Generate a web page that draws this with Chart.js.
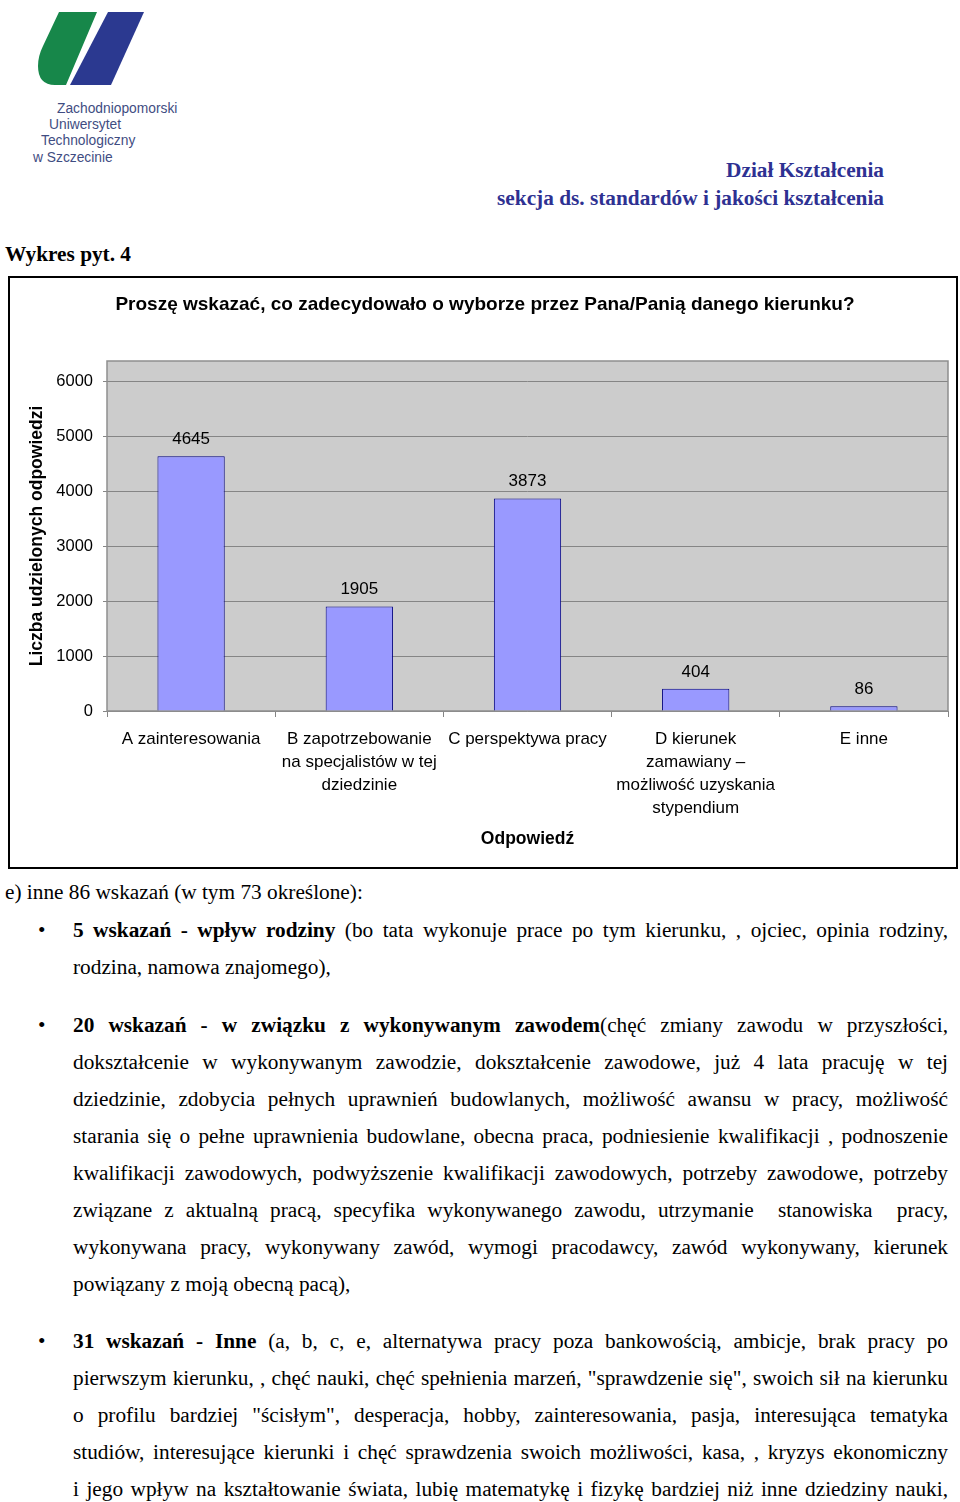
<!DOCTYPE html>
<html lang="pl">
<head>
<meta charset="utf-8">
<title>Wykres pyt. 4</title>
<script src="https://cdn.jsdelivr.net/npm/chart.js@4.4.1/dist/chart.umd.min.js"></script>
<style>
html,body{margin:0;padding:0;background:#fff;}
body{width:960px;height:1502px;position:relative;overflow:hidden;font-family:'Liberation Serif','Times New Roman',serif;color:#000;}
.abs{position:absolute;}
#logo{left:0;top:0;}
#hdr{right:76px;top:156px;text-align:right;font-weight:bold;font-size:21.3px;line-height:28px;color:#2e3192;white-space:nowrap;}
#wyk{left:5px;top:240px;font-weight:bold;font-size:21.3px;line-height:28px;white-space:nowrap;}
#box{left:8px;top:276px;width:950px;height:593px;box-sizing:border-box;border:2px solid #000;}
#box canvas{display:block;}
.txt{font-size:21.3px;line-height:37px;}
.ln{height:37px;white-space:nowrap;text-align:justify;text-align-last:justify;}
.ln.last{text-align-last:left;}
.par{left:73px;width:875px;}
.bul{left:38px;font-size:21.3px;line-height:37px;}
</style>
</head>
<body>
<svg id="logo" class="abs" width="200" height="170" viewBox="0 0 200 170">
  <path d="M59,12 L97,12 L66,85 L55,85 Q38,85 38,66 Q38,56 43,46 Z" fill="#17874a"/>
  <path d="M108,12 L144,12 L111,85 L70,85 Z" fill="#2b3990"/>
  <g font-family="'Liberation Sans', Arial, sans-serif" font-size="13.8" fill="#3f4d82">
    <text x="57" y="113">Zachodniopomorski</text>
    <text x="49" y="129">Uniwersytet</text>
    <text x="41" y="145">Technologiczny</text>
    <text x="33" y="162">w Szczecinie</text>
  </g>
</svg>

<div id="hdr" class="abs">Dział Kształcenia<br>sekcja ds. standardów i jakości kształcenia</div>
<div id="wyk" class="abs">Wykres pyt. 4</div>

<div id="box" class="abs"><canvas id="c" width="946" height="589"></canvas></div>

<div class="abs txt" style="left:5px;top:873.5px;white-space:nowrap;">e) inne 86 wskazań (w tym 73 określone):</div>

<div class="abs bul" style="top:911.5px;">•</div>
<div class="abs txt par" style="top:911.5px;">
  <div class="ln"><b>5 wskazań - wpływ rodziny</b> (bo tata wykonuje prace po tym kierunku, , ojciec, opinia rodziny,</div>
  <div class="ln last">rodzina, namowa znajomego),</div>
</div>

<div class="abs bul" style="top:1006.5px;">•</div>
<div class="abs txt par" style="top:1006.5px;">
  <div class="ln"><b>20 wskazań - w związku z wykonywanym zawodem</b>(chęć zmiany zawodu w przyszłości,</div>
  <div class="ln">dokształcenie w wykonywanym zawodzie, dokształcenie zawodowe, już 4 lata pracuję w tej</div>
  <div class="ln">dziedzinie, zdobycia pełnych uprawnień budowlanych, możliwość awansu w pracy, możliwość</div>
  <div class="ln">starania się o pełne uprawnienia budowlane, obecna praca, podniesienie kwalifikacji , podnoszenie</div>
  <div class="ln">kwalifikacji zawodowych, podwyższenie kwalifikacji zawodowych, potrzeby zawodowe, potrzeby</div>
  <div class="ln">związane z aktualną pracą, specyfika wykonywanego zawodu, utrzymanie &nbsp;stanowiska &nbsp;pracy,</div>
  <div class="ln">wykonywana pracy, wykonywany zawód, wymogi pracodawcy, zawód wykonywany, kierunek</div>
  <div class="ln last">powiązany z moją obecną pacą),</div>
</div>

<div class="abs bul" style="top:1322.5px;">•</div>
<div class="abs txt par" style="top:1322.5px;">
  <div class="ln"><b>31 wskazań - Inne</b> (a, b, c, e, alternatywa pracy poza bankowością, ambicje, brak pracy po</div>
  <div class="ln">pierwszym kierunku, , chęć nauki, chęć spełnienia marzeń, "sprawdzenie się", swoich sił na kierunku</div>
  <div class="ln">o profilu bardziej "ścisłym", desperacja, hobby, zainteresowania, pasja, interesująca tematyka</div>
  <div class="ln">studiów, interesujące kierunki i chęć sprawdzenia swoich możliwości, kasa, , kryzys ekonomiczny</div>
  <div class="ln">i jego wpływ na kształtowanie świata, lubię matematykę i fizykę bardziej niż inne dziedziny nauki,</div>
</div>

<script>
// ---- data ----
const chartTitle = "Proszę wskazać, co zadecydowało o wyborze przez Pana/Panią danego kierunku?";
const yAxisTitle = "Liczba udzielonych odpowiedzi";
const xAxisTitle = "Odpowiedź";
const categories = [
  ["A zainteresowania"],
  ["B zapotrzebowanie", "na specjalistów w tej", "dziedzinie"],
  ["C perspektywa pracy"],
  ["D kierunek", "zamawiany –", "możliwość uzyskania", "stypendium"],
  ["E inne"]
];
const answerCounts = [4645, 1905, 3873, 404, 86];
const yTickValues = [0, 1000, 2000, 3000, 4000, 5000, 6000];
const yAxisMax = 6380;

// keep over-long justified lines inside their column
function fitLines() {
  document.querySelectorAll('.ln').forEach(el => {
    el.style.letterSpacing = '0px';
    const over = el.scrollWidth - el.clientWidth;
    if (over > 0) {
      const n = el.textContent.length;
      el.style.letterSpacing = (-(over + 1) / n) + 'px';
    }
  });
}
fitLines();
if (document.fonts && document.fonts.ready) document.fonts.ready.then(fitLines);

// ---- plugins ----
const plotArea = {
  id: 'plotArea',
  beforeDraw(chart) {
    const {ctx, chartArea: a} = chart;
    ctx.save();
    ctx.fillStyle = '#cccccc';
    ctx.fillRect(a.left, a.top, a.right - a.left, a.bottom - a.top);
    ctx.restore();
  },
  beforeDatasetsDraw(chart) {
    const {ctx, chartArea: a} = chart;
    ctx.save();
    ctx.strokeStyle = '#8e8e8e';
    ctx.lineWidth = 1.5;
    ctx.strokeRect(a.left, a.top, a.right - a.left, a.bottom - a.top);
    ctx.restore();
  }
};
const valueLabels = {
  id: 'valueLabels',
  afterDatasetsDraw(chart) {
    const {ctx} = chart;
    const meta = chart.getDatasetMeta(0);
    const vals = chart.data.datasets[0].data;
    ctx.save();
    ctx.font = "17px 'Liberation Sans', Arial, sans-serif";
    ctx.fillStyle = '#000';
    ctx.textAlign = 'center';
    ctx.textBaseline = 'middle';
    meta.data.forEach((bar, i) => ctx.fillText(String(vals[i]), bar.x, bar.y - 17));
    ctx.restore();
  }
};

Chart.defaults.font.family = "'Liberation Sans', Arial, sans-serif";
Chart.defaults.color = '#000';

new Chart(document.getElementById('c'), {
  type: 'bar',
  data: {
    labels: categories,
    datasets: [{
      data: answerCounts,
      backgroundColor: '#9999ff',
      borderColor: '#000080',
      borderWidth: 1,
      barPercentage: 0.4,
      categoryPercentage: 1.0
    }]
  },
  options: {
    responsive: false,
    animation: false,
    layout: {padding: {left: 12, right: 8, top: 0, bottom: 0}},
    plugins: {
      legend: {display: false},
      tooltip: {enabled: false},
      title: {
        display: true,
        text: chartTitle,
        color: '#000',
        font: {size: 19, weight: 'bold'},
        padding: {top: 15.6, bottom: 44.6}
      }
    },
    scales: {
      y: {
        min: 0,
        max: yAxisMax,
        afterBuildTicks: (axis) => { axis.ticks = yTickValues.map(v => ({value: v})); },
        afterFit: (s) => { s.width = 85; },
        ticks: {font: {size: 16.5}, color: '#000', padding: 10, callback: (v) => String(v)},
        grid: {color: '#858585', tickColor: '#858585', tickLength: 4, lineWidth: 1},
        border: {display: false},
        title: {display: true, text: yAxisTitle, color: '#000', font: {size: 17.5, weight: 'bold'}, padding: {top: 4.5, bottom: 0}}
      },
      x: {
        afterFit: (s) => { s.height = 156; },
        ticks: {font: {size: 17, lineHeight: 1.353}, color: '#000', padding: 11, maxRotation: 0, minRotation: 0, autoSkip: false},
        grid: {display: true, drawOnChartArea: false, drawTicks: true, tickLength: 6, color: '#858585', tickColor: '#858585', offset: true},
        border: {display: false},
        title: {display: true, text: xAxisTitle, color: '#000', font: {size: 17.5, weight: 'bold'}, padding: {top: 0, bottom: 17.5}}
      }
    }
  },
  plugins: [plotArea, valueLabels]
});
</script>
</body>
</html>
